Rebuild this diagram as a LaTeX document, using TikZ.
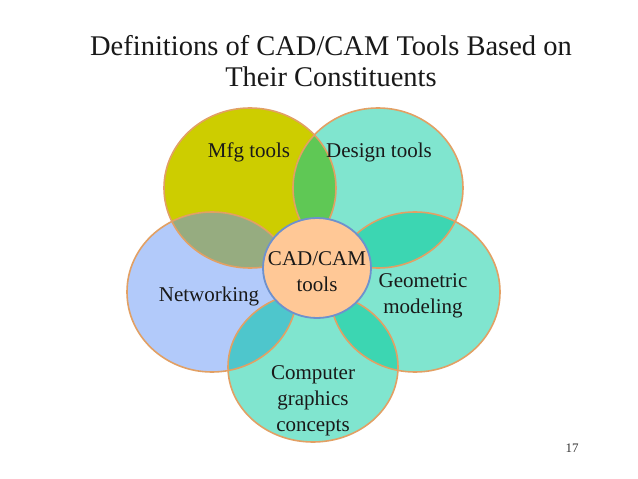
\documentclass[tikz,border=0pt]{standalone}
\usepackage{fontspec}
\setmainfont{Liberation Serif}
\usetikzlibrary{shapes.geometric}
\definecolor{cMfg}{RGB}{205,205,0}
\definecolor{cTeal}{RGB}{128,229,207}
\definecolor{cNet}{RGB}{178,202,250}
\definecolor{cMD}{RGB}{95,200,85}
\definecolor{cMN}{RGB}{150,172,128}
\definecolor{cDeep}{RGB}{60,214,178}
\definecolor{cNC}{RGB}{78,198,204}
\definecolor{cEdge}{RGB}{226,160,100}
\definecolor{cCtr}{RGB}{255,200,150}
\definecolor{cCtrEdge}{RGB}{110,145,205}
\tikzset{
  petal/.style={draw=cEdge, line width=1.6pt},
  lbl/.style={font=\fontsize{21}{26}\selectfont, align=center, inner sep=0pt, text=black!90},
  ttl/.style={font=\fontsize{28.5}{31}\selectfont, align=center, inner sep=0pt, text=black!90}
}
\begin{document}
\begin{tikzpicture}[x=1pt,y=-1pt]
\useasboundingbox (0,0) rectangle (638,479);
\fill[white] (0,0) rectangle (638,479);
% centres
\coordinate (M) at (250,188);
\coordinate (D) at (378,188);
\coordinate (N) at (212,292);
\coordinate (G) at (415,292);
\coordinate (C) at (313,367);
\coordinate (O) at (317,268);
\def\eM{(M) ellipse [x radius=86, y radius=80]}
\def\eD{(D) ellipse [x radius=85, y radius=80]}
\def\eN{(N) ellipse [x radius=85, y radius=80]}
\def\eG{(G) ellipse [x radius=85, y radius=80]}
\def\eC{(C) ellipse [x radius=85, y radius=75]}
% fills
\fill[cMfg] \eM;
\fill[cTeal] \eD;
\fill[cNet] \eN;
\fill[cTeal] \eG;
\fill[cTeal] \eC;
% overlaps
\begin{scope}\clip \eM; \fill[cMD] \eD; \end{scope}
\begin{scope}\clip \eM; \fill[cMN] \eN; \end{scope}
\begin{scope}\clip \eD; \fill[cDeep] \eG; \end{scope}
\begin{scope}\clip \eN; \fill[cNC] \eC; \end{scope}
\begin{scope}\clip \eG; \fill[cDeep] \eC; \end{scope}
% outlines
\draw[petal] \eM;
\draw[petal] \eD;
\draw[petal] \eN;
\draw[petal] \eG;
\draw[petal] \eC;
% labels
\node[lbl] (lm) at (249,152) {Mfg tools};
\node[lbl] (ld) at (379,152) {Design tools};
\node[lbl] (ln) at (209,296) {Networking};
\node[lbl] (lg) at (423,296) {Geometric\\modeling};
\node[lbl] (lc) at (313,401) {Computer\\graphics\\concepts};
% centre
\node[ellipse, minimum width=108pt, minimum height=100pt, fill=cCtr, draw=cCtrEdge, line width=1.8pt, inner sep=0pt] (ctr) at (O) {};
\node[lbl] (lctr) at (317,272) {CAD/CAM\\tools};
% title
\node[ttl] (title) at (331,61) {Definitions of CAD/CAM Tools Based on\\Their Constituents};
\node[font=\fontsize{13}{15}\selectfont, inner sep=0pt, text=black!80] (pg) at (572,448) {17};
\end{tikzpicture}
\end{document}
